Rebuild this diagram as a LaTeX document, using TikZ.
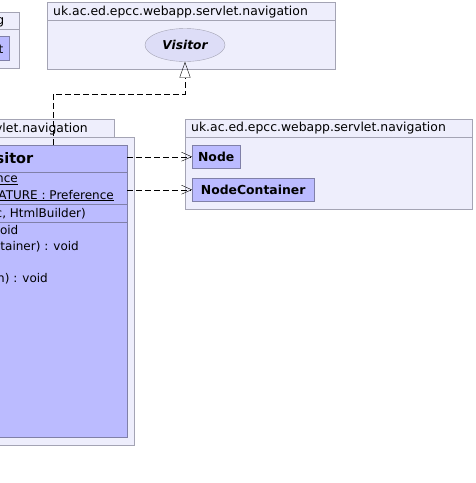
\documentclass[tikz,border=0pt]{standalone}
\usepackage{fontspec}
\setmainfont{DejaVu Sans}
\usetikzlibrary{arrows.meta}
\usetikzlibrary{shapes.geometric}
\usetikzlibrary{positioning}
\definecolor{uml-pkg}{HTML}{EEEEFC}
\definecolor{uml-pkgline}{HTML}{A4A4B4}
\definecolor{uml-cls}{HTML}{BBBBFF}
\definecolor{uml-clsline}{HTML}{8080A8}
\definecolor{uml-iface}{HTML}{DDDDF7}
\definecolor{uml-text}{HTML}{000000}

\begin{document}
\begin{tikzpicture}[
    x=1pt, y=-1pt,
    pkg/.style={draw=uml-pkgline, fill=uml-pkg, anchor=north west, inner sep=0pt},
    pkgname/.style={font=\fontsize{12.4}{14}\selectfont, anchor=base west, inner sep=0pt},
    cls/.style={draw=uml-clsline, fill=uml-cls, anchor=north west, inner sep=0pt},
    clsname/.style={font=\fontsize{14.5}{16}\selectfont\bfseries},
    member/.style={font=\fontsize{12}{14}\selectfont, anchor=base east, inner sep=0pt},
    iface/.style={ellipse, draw=uml-pkgline, fill=uml-iface, minimum width=80, minimum height=33, inner sep=0pt, font=\fontsize{12.2}{14}\selectfont\bfseries\itshape},
    sep/.style={draw=uml-clsline},
    dep/.style={-{Straight Barb[length=10pt, width=9pt]}, dash pattern=on 6pt off 3pt},
    real/.style={-{Triangle[open, length=16pt, width=11pt]}, dash pattern=on 6pt off 3pt}
]
\useasboundingbox (0,0) rectangle (475,483);
\clip (0,0) rectangle (475,483);

% =========================================================================
% PACOTE CORTADO (canto superior esquerdo)
% =========================================================================
\node[pkg, minimum width=60, minimum height=56] (pkgCut) at (-41,12) {};
\draw[draw=uml-pkgline] (pkgCut.west |- 0,29) -- (pkgCut.east |- 0,29);
\node[member, font=\fontsize{12.4}{14}\selectfont] at (4.5,24) {g};
\node[cls, minimum width=40, minimum height=24] (clsCut) at (-31,36) {};
\node[member] at (3.5,53) {t};

% =========================================================================
% PACOTE SUPERIOR: interface Visitor
% =========================================================================
\node[pkg, minimum width=288, minimum height=67] (pkgTop) at (47,2) {};
\draw[draw=uml-pkgline] (pkgTop.west |- 0,20) -- (pkgTop.east |- 0,20);
\node[pkgname] at (53,15.5) {uk.ac.ed.epcc.webapp.servlet.navigation};
\node[iface] (visitor) at (185,45) {Visitor};

% =========================================================================
% PACOTE DA ESQUERDA: classe cortada
% =========================================================================
\node[pkg, minimum width=154, minimum height=18] (pkgLeftTab) at (-40,119) {};
\node[pkg, minimum width=174, minimum height=308] (pkgLeft) at (-40,137) {};
\node[pkgname, anchor=base east] at (88,132.5) {vlet.navigation};

\node[cls, minimum width=148, minimum height=292] (cls) at (-21,145) {};
\node[clsname, anchor=base east, inner sep=0pt] at (33.5,163.5) {sitor};
\draw[sep] (cls.west |- 0,172) -- (cls.east |- 0,172);
\node[member] at (18,182.5) {\underline{nce}};
\node[member] at (114,199) {\underline{LATURE : Preference}};
\draw[sep] (cls.west |- 0,204) -- (cls.east |- 0,204);
\node[member] at (86,217) {c, HtmlBuilder)};
\draw[sep] (cls.west |- 0,222) -- (cls.east |- 0,222);
\node[member] at (18.5,234) {oid};
\node[member] at (79,250) {tainer) : void};
\node[member] at (48,282) {n) : void};

% =========================================================================
% PACOTE DA DIREITA: Node e NodeContainer
% =========================================================================
\node[pkg, minimum width=287, minimum height=90] (pkgNav) at (185,119) {};
\draw[draw=uml-pkgline] (pkgNav.west |- 0,137) -- (pkgNav.east |- 0,137);
\node[pkgname] at (191,131.5) {uk.ac.ed.epcc.webapp.servlet.navigation};
\node[cls, minimum width=48, minimum height=23, font=\fontsize{12.4}{14}\selectfont\bfseries] (node) at (192,145) {Node};
\node[cls, minimum width=122, minimum height=23, font=\fontsize{12.4}{14}\selectfont\bfseries] (nodeCont) at (192,178) {NodeContainer};

% =========================================================================
% CONECTORES
% =========================================================================
\draw[dep] (cls.east |- node.west) -- (node.west);
\draw[dep] (cls.east |- nodeCont.west) -- (nodeCont.west);

\coordinate (bend) at (185,94);
\draw[real] (cls.north) |- (bend) -- (visitor.south);

\end{tikzpicture}
\end{document}
